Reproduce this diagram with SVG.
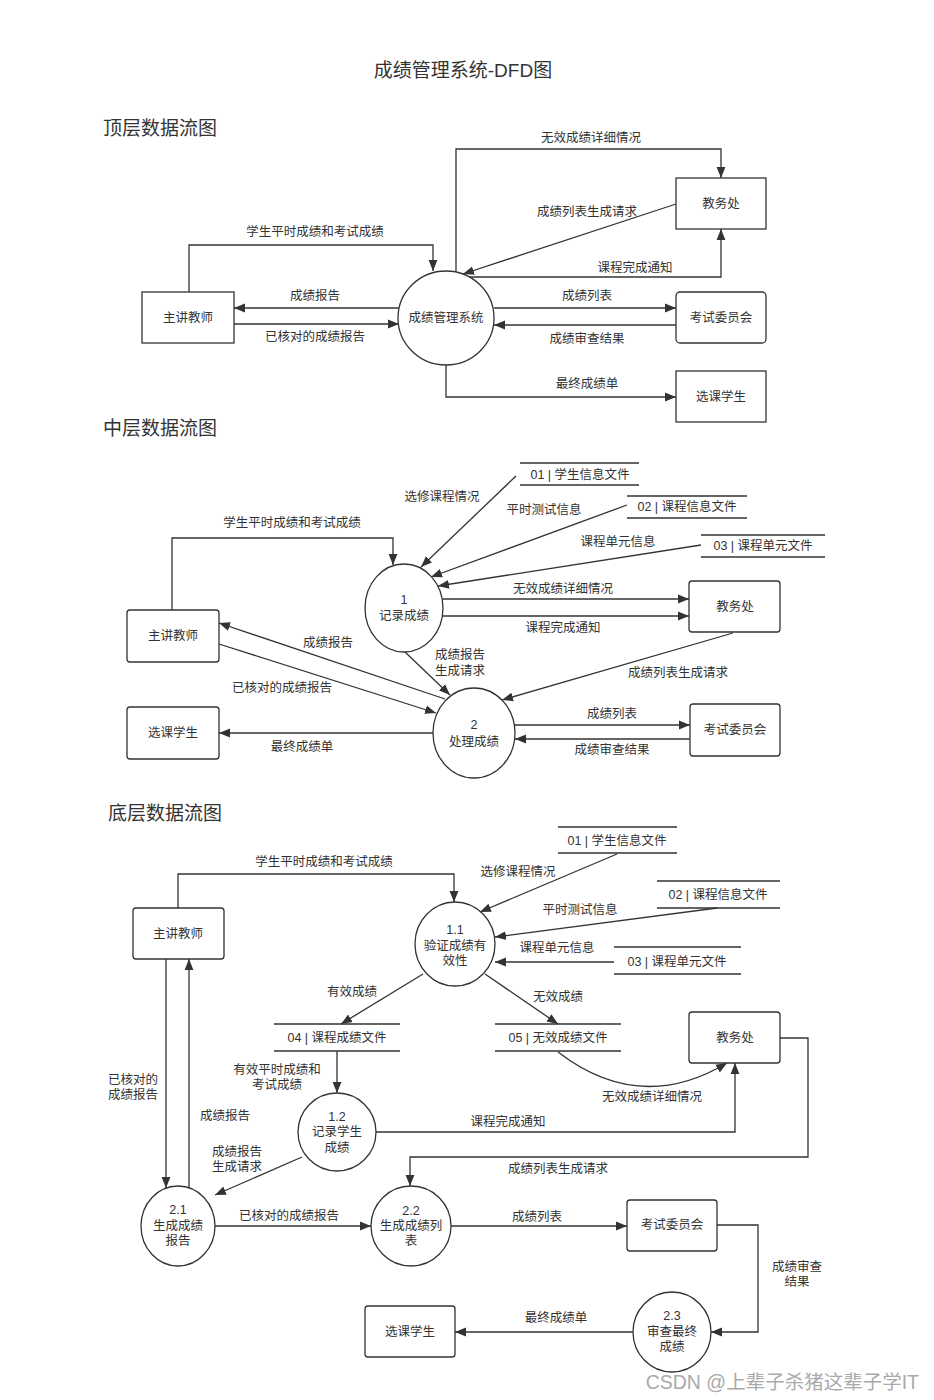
<svg xmlns="http://www.w3.org/2000/svg" width="934" height="1400" viewBox="0 0 934 1400">
<style>
text{font-family:"Liberation Sans","Noto Sans CJK SC",sans-serif;fill:#333;font-size:12.5px;text-anchor:middle;dominant-baseline:central}
.h{font-size:19px;text-anchor:start}
.t{font-size:19px}
.wm{font-size:19.5px;fill:#aaa;text-anchor:end}
.box{fill:#fff;stroke:#333;stroke-width:1.3}
.st{fill:none;stroke:#333;stroke-width:1.3}
.c{fill:none;stroke:#333;stroke-width:1.3;marker-end:url(#arr)}
</style>
<defs>
<marker id="arr" viewBox="0 0 10 10" refX="10" refY="5" markerWidth="11" markerHeight="11" markerUnits="userSpaceOnUse" orient="auto"><path d="M0,1 L10,5 L0,9 z" fill="#333"/></marker>
</defs>
<rect width="934" height="1400" fill="#fff"/>
<text class="t" x="463" y="70">成绩管理系统-DFD图</text>
<text class="h" x="103" y="128">顶层数据流图</text>
<text class="h" x="103" y="428">中层数据流图</text>
<text class="h" x="108" y="813">底层数据流图</text>

<!-- ===== TOP LEVEL ===== -->
<g id="connectors-top">
<path class="c" d="M189,292 V245 H433 V271"/>
<path class="c" d="M399,308 H234"/>
<path class="c" d="M234,324 H399"/>
<path class="c" d="M456,271 V149 H721 V178"/>
<path class="c" d="M676,204 L463,274"/>
<path class="c" d="M468,277 H721 V229"/>
<path class="c" d="M494,308 H676"/>
<path class="c" d="M676,325 H494"/>
<path class="c" d="M446,365 V397 H676"/>
<text x="315" y="232">学生平时成绩和考试成绩</text>
<text x="315" y="296">成绩报告</text>
<text x="315" y="337">已核对的成绩报告</text>
<text x="591" y="138">无效成绩详细情况</text>
<text x="587" y="212">成绩列表生成请求</text>
<text x="635" y="268">课程完成通知</text>
<text x="587" y="296">成绩列表</text>
<text x="587" y="339">成绩审查结果</text>
<text x="587" y="384">最终成绩单</text>
</g>
<g id="t-teacher"><rect class="box" x="142" y="292" width="92" height="51"/><text x="188" y="318">主讲教师</text></g>
<g id="t-system"><ellipse class="box" cx="446" cy="318" rx="48" ry="47"/><text x="446" y="318">成绩管理系统</text></g>
<g id="t-office"><rect class="box" x="676" y="178" width="90" height="51"/><text x="721" y="204">教务处</text></g>
<g id="t-exam"><rect class="box" x="676" y="292" width="90" height="51" rx="4"/><text x="721" y="318">考试委员会</text></g>
<g id="t-student"><rect class="box" x="676" y="371" width="90" height="51"/><text x="721" y="397">选课学生</text></g>

<!-- ===== MIDDLE LEVEL ===== -->
<g id="connectors-mid">
<path class="c" d="M172,610 V538 H393 V565"/>
<path class="c" d="M516,476 L421,567"/>
<path class="c" d="M627,505 L431,577"/>
<path class="c" d="M701,545 L438,586"/>
<path class="c" d="M443,599 H689"/>
<path class="c" d="M442,616 H689"/>
<path class="c" d="M405,652 L450,695"/>
<path class="c" d="M733,633 L502,700"/>
<path class="c" d="M445,699 L219,623"/>
<path class="c" d="M219,644 L436,713"/>
<path class="c" d="M433,733 H219"/>
<path class="c" d="M515,725 H690"/>
<path class="c" d="M690,739 H515"/>
<text x="292" y="523">学生平时成绩和考试成绩</text>
<text x="442" y="497">选修课程情况</text>
<text x="544" y="510">平时测试信息</text>
<text x="618" y="542">课程单元信息</text>
<text x="563" y="589">无效成绩详细情况</text>
<text x="563" y="628">课程完成通知</text>
<text><tspan x="460" y="655">成绩报告</tspan><tspan x="460" y="671">生成请求</tspan></text>
<text x="678" y="673">成绩列表生成请求</text>
<text x="328" y="643">成绩报告</text>
<text x="282" y="688">已核对的成绩报告</text>
<text x="302" y="747">最终成绩单</text>
<text x="612" y="714">成绩列表</text>
<text x="612" y="750">成绩审查结果</text>
</g>
<g id="m-store01"><path class="st" d="M520,463 H639 M520,485 H639"/><text x="580" y="475">01 | 学生信息文件</text></g>
<g id="m-store02"><path class="st" d="M627,496 H747 M627,518 H747"/><text x="687" y="507">02 | 课程信息文件</text></g>
<g id="m-store03"><path class="st" d="M701,535 H825 M701,557 H825"/><text x="763" y="546">03 | 课程单元文件</text></g>
<g id="m-p1"><ellipse class="box" cx="404" cy="608" rx="39" ry="44"/><text><tspan x="404" y="600">1</tspan><tspan x="404" y="616">记录成绩</tspan></text></g>
<g id="m-p2"><ellipse class="box" cx="474" cy="733" rx="41" ry="45"/><text><tspan x="474" y="725">2</tspan><tspan x="474" y="742">处理成绩</tspan></text></g>
<g id="m-teacher"><rect class="box" x="127" y="610" width="92" height="52" rx="3"/><text x="173" y="636">主讲教师</text></g>
<g id="m-student"><rect class="box" x="127" y="707" width="92" height="52" rx="3"/><text x="173" y="733">选课学生</text></g>
<g id="m-office"><rect class="box" x="689" y="581" width="91" height="51" rx="3"/><text x="735" y="607">教务处</text></g>
<g id="m-exam"><rect class="box" x="690" y="704" width="90" height="52" rx="3"/><text x="735" y="730">考试委员会</text></g>

<!-- ===== BOTTOM LEVEL ===== -->
<g id="connectors-bottom">
<path class="c" d="M178,908 V874 H454 V902"/>
<path class="c" d="M617,854 L480,912"/>
<path class="c" d="M717,908 L495,937"/>
<path class="c" d="M614,962 H495"/>
<path class="c" d="M423,974 L341,1024"/>
<path class="c" d="M485,974 L558,1024"/>
<path class="c" d="M337,1051 V1093"/>
<path class="c" d="M558,1052 Q640,1115 727,1063"/>
<path class="c" d="M376,1132 H735 V1063"/>
<path class="c" d="M780,1038 H808 V1157 H410 V1186"/>
<path class="c" d="M166,959 V1188"/>
<path class="c" d="M189,1188 V959"/>
<path class="c" d="M302,1157 L215,1195"/>
<path class="c" d="M215,1226 H371"/>
<path class="c" d="M451,1226 H627"/>
<path class="c" d="M717,1225 H758 V1332 H711"/>
<path class="c" d="M633,1332 H455"/>
<text x="324" y="862">学生平时成绩和考试成绩</text>
<text x="518" y="872">选修课程情况</text>
<text x="580" y="910">平时测试信息</text>
<text x="557" y="948">课程单元信息</text>
<text x="352" y="992">有效成绩</text>
<text x="558" y="997">无效成绩</text>
<text><tspan x="277" y="1070">有效平时成绩和</tspan><tspan x="277" y="1085">考试成绩</tspan></text>
<text x="652" y="1097">无效成绩详细情况</text>
<text x="508" y="1122">课程完成通知</text>
<text x="558" y="1169">成绩列表生成请求</text>
<text><tspan x="133" y="1080">已核对的</tspan><tspan x="133" y="1095">成绩报告</tspan></text>
<text x="225" y="1116">成绩报告</text>
<text><tspan x="237" y="1152">成绩报告</tspan><tspan x="237" y="1167">生成请求</tspan></text>
<text x="289" y="1216">已核对的成绩报告</text>
<text x="537" y="1217">成绩列表</text>
<text><tspan x="797" y="1267">成绩审查</tspan><tspan x="797" y="1282">结果</tspan></text>
<text x="556" y="1318">最终成绩单</text>
</g>
<g id="b-teacher"><rect class="box" x="133" y="908" width="91" height="51" rx="3"/><text x="178" y="934">主讲教师</text></g>
<g id="b-p11"><ellipse class="box" cx="455" cy="944" rx="40" ry="42"/><text><tspan x="455" y="930">1.1</tspan><tspan x="455" y="946">验证成绩有</tspan><tspan x="455" y="961">效性</tspan></text></g>
<g id="b-store01"><path class="st" d="M558,827 H677 M558,853 H677"/><text x="617" y="841">01 | 学生信息文件</text></g>
<g id="b-store02"><path class="st" d="M657,881 H780 M657,908 H780"/><text x="718" y="895">02 | 课程信息文件</text></g>
<g id="b-store03"><path class="st" d="M614,947 H741 M614,974 H741"/><text x="677" y="962">03 | 课程单元文件</text></g>
<g id="b-store04"><path class="st" d="M274,1024 H400 M274,1051 H400"/><text x="337" y="1038">04 | 课程成绩文件</text></g>
<g id="b-store05"><path class="st" d="M495,1024 H621 M495,1051 H621"/><text x="558" y="1038">05 | 无效成绩文件</text></g>
<g id="b-office"><rect class="box" x="689" y="1012" width="91" height="51" rx="3"/><text x="735" y="1038">教务处</text></g>
<g id="b-p12"><ellipse class="box" cx="337" cy="1132" rx="39" ry="39"/><text><tspan x="337" y="1117">1.2</tspan><tspan x="337" y="1132">记录学生</tspan><tspan x="337" y="1148">成绩</tspan></text></g>
<g id="b-p21"><ellipse class="box" cx="178" cy="1226" rx="37" ry="40"/><text><tspan x="178" y="1210">2.1</tspan><tspan x="178" y="1226">生成成绩</tspan><tspan x="178" y="1241">报告</tspan></text></g>
<g id="b-p22"><ellipse class="box" cx="411" cy="1226" rx="40" ry="40"/><text><tspan x="411" y="1211">2.2</tspan><tspan x="411" y="1226">生成成绩列</tspan><tspan x="411" y="1241">表</tspan></text></g>
<g id="b-exam"><rect class="box" x="627" y="1200" width="90" height="51" rx="3"/><text x="672" y="1225">考试委员会</text></g>
<g id="b-p23"><ellipse class="box" cx="672" cy="1332" rx="39" ry="40"/><text><tspan x="672" y="1316">2.3</tspan><tspan x="672" y="1332">审查最终</tspan><tspan x="672" y="1347">成绩</tspan></text></g>
<g id="b-student"><rect class="box" x="365" y="1306" width="90" height="51" rx="3"/><text x="410" y="1332">选课学生</text></g>
<text class="wm" x="919" y="1382">CSDN @上辈子杀猪这辈子学IT</text>
</svg>
